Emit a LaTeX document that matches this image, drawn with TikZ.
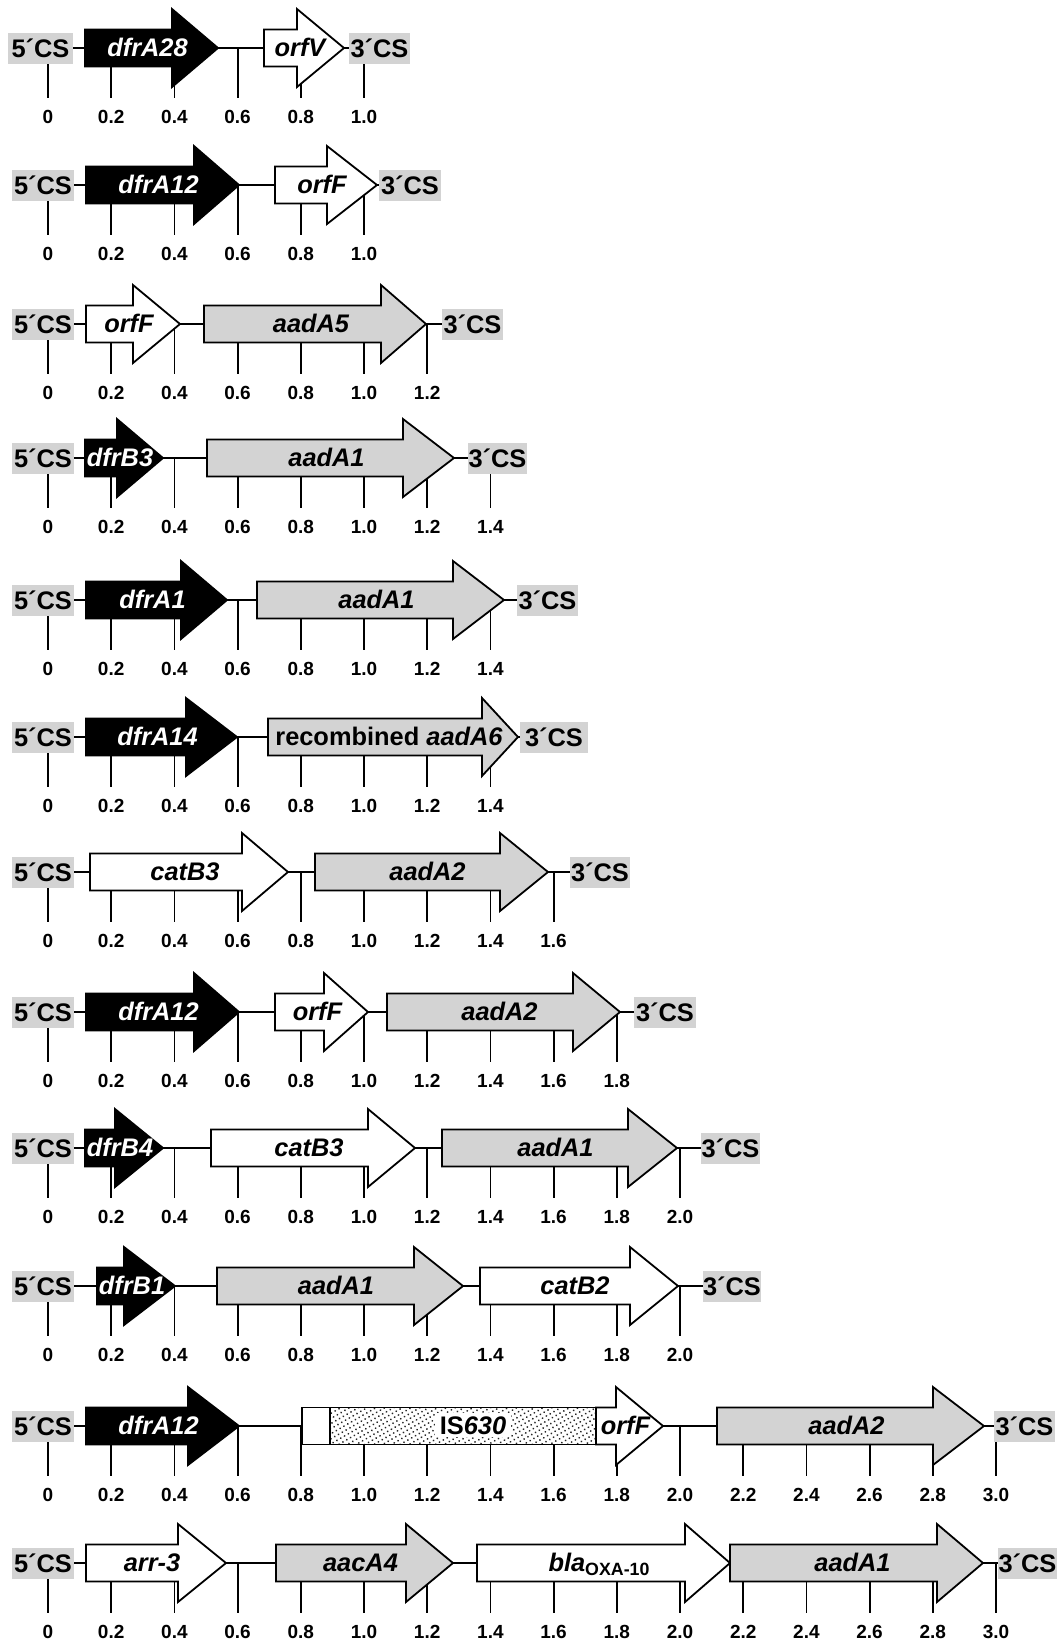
\documentclass[tikz,border=0pt]{standalone}
\usepackage{fontspec}
\setmainfont{Liberation Sans}
\usetikzlibrary{patterns.meta}
\definecolor{genegrey}{RGB}{211,211,211}
\tikzset{
  outl/.style={draw=black, line width=0.9pt, line join=miter},
  blackgene/.style={outl, fill=black},
  whitegene/.style={outl, fill=white},
  greygene/.style={outl, fill=genegrey},
  genelabel/.style={font=\fontsize{12.7}{14}\selectfont\bfseries\itshape, anchor=base, inner sep=0pt},
  csnode/.style={fill=genegrey, minimum height=15.5pt, inner sep=0pt, font=\fontsize{12.7}{14}\selectfont\bfseries},
  backbone/.style={draw=black, line width=0.9pt},
  tickline/.style={draw=black, line width=0.9pt},
  ticklabel/.style={font=\fontsize{9.5}{11}\selectfont\bfseries, anchor=base, inner sep=0pt},
}
% name, y, start, headstart, tip, style, textcolour, label
\newcommand\gene[8]{%
  \draw[#6] (#3,#2-18.5) -- (#4,#2-18.5) -- (#4,#2-39) -- (#5,#2) -- (#4,#2+39) -- (#4,#2+18.5) -- (#3,#2+18.5) -- cycle;
  \node[genelabel, text=#7] (#1) at ({(#3+#5)/2-4},#2+8) {#8};
}
% name, xleft, xright, y, text
\newcommand\csbox[5]{%
  \pgfmathsetmacro\csw{(#3-#2)*0.5}%
  \node[csnode, minimum width=\csw pt] (#1) at ({(#2+#3)/2},#4) {#5};
}
% rowname, y, number of ticks-1
\newcommand\ticks[3]{%
  \foreach \i in {0,...,#3}{%
    \pgfmathsetmacro\tx{48+63.2*\i}%
    \pgfmathsetmacro\tv{0.2*\i}%
    \draw[tickline] (\tx,#2) -- (\tx,#2+50);
    \node[ticklabel] (#1t\i) at (\tx,#2+75) {\ifnum\i=0 0\else\pgfmathprintnumber[fixed,fixed zerofill,precision=1,assume math mode=true]{\tv}\fi};
  }%
}
% row: name, y, 5'CS left, 5'CS right, 3'CS left, 3'CS right
\newcommand\rowframe[6]{%
  \coordinate (#1a) at (#4,#2);
  \coordinate (#1b) at (#5,#2);
  \draw[backbone] (#1a) -- (#1b);
}
\newcommand\rowboxes[6]{%
  \csbox{#1five}{#3}{#4}{#2}{5´CS}
  \csbox{#1three}{#5}{#6}{#2}{3´CS}
}
\begin{document}
\begin{tikzpicture}[x=0.5pt,y=-0.5pt]
\useasboundingbox[fill=white] (0,0) rectangle (1060,1640);

% Row 1
\rowframe{ra}{48}{8}{73}{349}{410}
\ticks{ra}{48}{5}
\rowboxes{ra}{48}{8}{73}{349}{410}
\gene{ra1}{48}{85}{172}{218}{blackgene}{white}{dfrA28}
\gene{ra2}{48}{264}{297}{344}{whitegene}{black}{orfV}

% Row 2
\rowframe{rb}{185}{12}{74}{379}{441}
\ticks{rb}{185}{5}
\rowboxes{rb}{185}{12}{74}{379}{441}
\gene{rb1}{185}{86}{194}{239}{blackgene}{white}{dfrA12}
\gene{rb2}{185}{275}{327}{377}{whitegene}{black}{orfF}

% Row 3
\rowframe{rc}{324}{12}{74}{442}{503}
\ticks{rc}{324}{6}
\rowboxes{rc}{324}{12}{74}{442}{503}
\gene{rc1}{324}{86}{133}{180}{whitegene}{black}{orfF}
\gene{rc2}{324}{204}{381}{426}{greygene}{black}{aadA5}

% Row 4
\rowframe{rd}{458}{12}{74}{468}{527}
\ticks{rd}{458}{7}
\rowboxes{rd}{458}{12}{74}{468}{527}
\gene{rd1}{458}{85}{117}{163}{blackgene}{white}{dfrB3}
\gene{rd2}{458}{207}{403}{454}{greygene}{black}{aadA1}

% Row 5
\rowframe{re}{600}{12}{74}{517}{578}
\ticks{re}{600}{7}
\rowboxes{re}{600}{12}{74}{517}{578}
\gene{re1}{600}{86}{181}{227}{blackgene}{white}{dfrA1}
\gene{re2}{600}{257}{453}{504}{greygene}{black}{aadA1}

% Row 6
\rowframe{rf}{737}{12}{74}{520}{588}
\ticks{rf}{737}{7}
\rowboxes{rf}{737}{12}{74}{520}{588}
\gene{rf1}{737}{86}{186}{237}{blackgene}{white}{dfrA14}
\gene{rf2}{737}{268}{482}{518}{greygene}{black}{{\upshape recombined} aadA6}

% Row 7
\rowframe{rg}{872}{12}{74}{570}{630}
\ticks{rg}{872}{8}
\rowboxes{rg}{872}{12}{74}{570}{630}
\gene{rg1}{872}{90}{242}{288}{whitegene}{black}{catB3}
\gene{rg2}{872}{315}{500}{548}{greygene}{black}{aadA2}

% Row 8
\rowframe{rh}{1012}{12}{74}{634}{696}
\ticks{rh}{1012}{9}
\rowboxes{rh}{1012}{12}{74}{634}{696}
\gene{rh1}{1012}{86}{194}{239}{blackgene}{white}{dfrA12}
\gene{rh2}{1012}{275}{324}{368}{whitegene}{black}{orfF}
\gene{rh3}{1012}{387}{573}{620}{greygene}{black}{aadA2}

% Row 9
\rowframe{ri}{1148}{12}{74}{701}{760}
\ticks{ri}{1148}{10}
\rowboxes{ri}{1148}{12}{74}{701}{760}
\gene{ri1}{1148}{85}{115}{163}{blackgene}{white}{dfrB4}
\gene{ri2}{1148}{211}{368}{415}{whitegene}{black}{catB3}
\gene{ri3}{1148}{442}{628}{677}{greygene}{black}{aadA1}

% Row 10
\rowframe{rj}{1286}{12}{74}{703}{761}
\ticks{rj}{1286}{10}
\rowboxes{rj}{1286}{12}{74}{703}{761}
\gene{rj1}{1286}{97}{124}{175}{blackgene}{white}{dfrB1}
\gene{rj2}{1286}{217}{414}{463}{greygene}{black}{aadA1}
\gene{rj3}{1286}{480}{630}{678}{whitegene}{black}{catB2}

% Row 11
\rowframe{rk}{1426}{12}{74}{994}{1055}
\ticks{rk}{1426}{15}
\rowboxes{rk}{1426}{12}{74}{994}{1055}
\gene{rk1}{1426}{86}{188}{239}{blackgene}{white}{dfrA12}
\draw[whitegene] (302,1426-18.5) rectangle (330,1426+18.5);
\draw[outl, preaction={fill=white}, pattern={Dots[distance=2.2pt, radius=0.5pt, angle=30]}, pattern color=black!85] (330,1426-18.5) rectangle (596,1426+18.5);
\node[genelabel, fill=white, inner xsep=2.5pt, inner ysep=1.5pt] (rkis) at (473,1426+8) {{\upshape IS}630};
\gene{rk2}{1426}{596}{616}{663}{whitegene}{black}{orfF}
\gene{rk3}{1426}{717}{933}{984}{greygene}{black}{aadA2}

% Row 12
\rowframe{rl}{1563}{12}{74}{998}{1057}
\ticks{rl}{1563}{15}
\rowboxes{rl}{1563}{12}{74}{998}{1057}
\gene{rl1}{1563}{86}{178}{226}{whitegene}{black}{arr-3}
\gene{rl2}{1563}{276}{406}{453}{greygene}{black}{aacA4}
\gene{rl3}{1563}{477}{685}{730}{whitegene}{black}{bla\textsubscript{\upshape OXA-10}}
\gene{rl4}{1563}{730}{937}{983}{greygene}{black}{aadA1}
\end{tikzpicture}
\end{document}
